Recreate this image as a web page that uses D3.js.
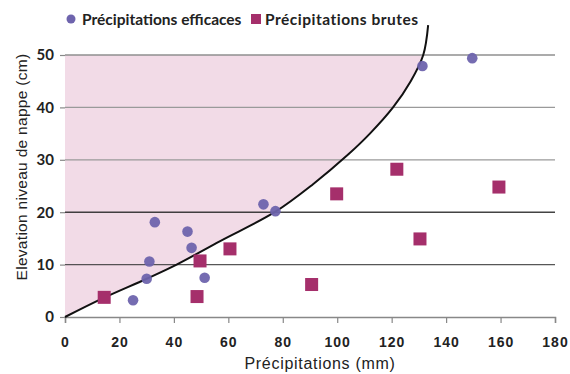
<!DOCTYPE html>
<html><head><meta charset="utf-8">
<script src="https://cdn.jsdelivr.net/npm/d3@7"></script>
<style>body{margin:0;background:#fff}</style>
</head><body><svg id="c" width="570" height="374"></svg>
<script>
const xTicks = [0,20,40,60,80,100,120,140,160,180];
const yTicks = [0,10,20,30,40,50];
const efficacesX = [25,30,31,33,45,46.5,51.3,72.9,77.3,131.3,149.6];
const efficacesY = [3.2,7.3,10.6,18.1,16.3,13.2,7.5,21.5,20.2,47.9,49.4];
const brutesX = [14.4,48.5,49.6,60.6,90.6,99.8,121.9,130.4,159.4];
const brutesY = [3.75,3.9,10.7,13.0,6.2,23.5,28.2,14.9,24.8];
const curveX = [0,14,30,41,57,77,91,104,112,120.5,127,131.6,133.4];
const curveY = [0,3.6,7.3,10,14.5,20,25.3,31,35,40,45,50,55.7];
const seriesNames = ["Précipitations efficaces","Précipitations brutes"];

const svg = d3.select("#c");
const x = d3.scaleLinear().domain([0,180]).range([65,555]);
const y = d3.scaleLinear().domain([0,50]).range([317,55]);
const curve = curveX.map((d,i)=>[d,curveY[i]]);
const lineGen = d3.line().x(d=>x(d[0])).y(d=>y(d[1])).curve(d3.curveCatmullRom.alpha(0.5));

// shaded area above curve, clipped to plot area
svg.append("clipPath").attr("id","pc").append("rect")
  .attr("x",65).attr("y",55).attr("width",490).attr("height",262);
svg.append("path").attr("clip-path","url(#pc)")
  .attr("d", lineGen(curve) + `L${x(0)},${y(curveY[curveY.length-1])}Z`)
  .attr("fill","#f2dbe7");

// gridlines
const gridColor = {10:"#3a3a3a",20:"#222",30:"#9a9a9a",40:"#9a9a9a",50:"#8f8f8f"};
yTicks.filter(d=>d>0).forEach(v=>{
  svg.append("line").attr("x1",x(0)).attr("x2",x(180)).attr("y1",y(v)).attr("y2",y(v))
    .attr("stroke",gridColor[v]).attr("stroke-opacity",v<=20?0.85:1).attr("stroke-width",v===20?1.6:1.3);
});

// x axis
const xa = svg.append("g").attr("transform",`translate(0,${y(0)})`)
  .call(d3.axisBottom(x).tickValues(xTicks).tickSize(6).tickPadding(14));
xa.select(".domain").attr("stroke","#888").attr("stroke-width",1.5);
xa.selectAll(".tick line").attr("stroke","#888").attr("stroke-width",1.2);
xa.selectAll("text").attr("font-family","Liberation Sans, Arial").attr("font-weight","bold")
  .attr("font-size",14).attr("letter-spacing",1).attr("fill","#222");

// y axis
const ya = svg.append("g").attr("transform",`translate(${x(0)},0)`)
  .call(d3.axisLeft(y).tickValues(yTicks).tickSize(5).tickPadding(6));
ya.select(".domain").remove();
ya.selectAll(".tick line").attr("stroke","#888").attr("stroke-width",1.2);
ya.selectAll("text").attr("font-family","Lato, sans-serif").attr("font-weight","bold")
  .attr("font-size",15).attr("fill","#222");

// curve
svg.append("path").attr("d", lineGen(curve))
  .attr("fill","none").attr("stroke","#111").attr("stroke-width",2);

// points
svg.selectAll("circle.e").data(efficacesX.map((d,i)=>[d,efficacesY[i]])).enter()
  .append("circle").attr("cx",d=>x(d[0])).attr("cy",d=>y(d[1])).attr("r",5.3)
  .attr("fill","#6e64ad").attr("opacity",0.95);
svg.selectAll("rect.b").data(brutesX.map((d,i)=>[d,brutesY[i]])).enter()
  .append("rect").attr("x",d=>x(d[0])-6.5).attr("y",d=>y(d[1])-6.5).attr("width",13).attr("height",13)
  .attr("fill","#a52f6b");

// legend
svg.append("circle").attr("cx",71).attr("cy",19).attr("r",4.5).attr("fill","#6e64ad");
svg.append("text").attr("x",82).attr("y",25).text(seriesNames[0])
  .attr("font-family","Lato, sans-serif").attr("font-weight","bold").attr("font-size",15.5)
  .attr("letter-spacing",0).attr("fill","#222");
svg.append("rect").attr("x",251).attr("y",14).attr("width",10).attr("height",10).attr("fill","#a52f6b");
svg.append("text").attr("x",265).attr("y",25).text(seriesNames[1])
  .attr("font-family","Lato, sans-serif").attr("font-weight","bold").attr("font-size",15.5)
  .attr("letter-spacing",0.5).attr("fill","#222");

// axis titles
svg.append("text").attr("x",320).attr("y",369).attr("text-anchor","middle").text("Précipitations (mm)")
  .attr("font-family","Liberation Sans, Arial").attr("font-size",16).attr("letter-spacing",0.7).attr("fill","#222");
svg.append("text").attr("transform","translate(27,167) rotate(-90)").attr("text-anchor","middle")
  .text("Elevation niveau de nappe (cm)")
  .attr("font-family","Liberation Sans, Arial").attr("font-size",15.5).attr("letter-spacing",0.3).attr("fill","#222");
</script></body></html>
